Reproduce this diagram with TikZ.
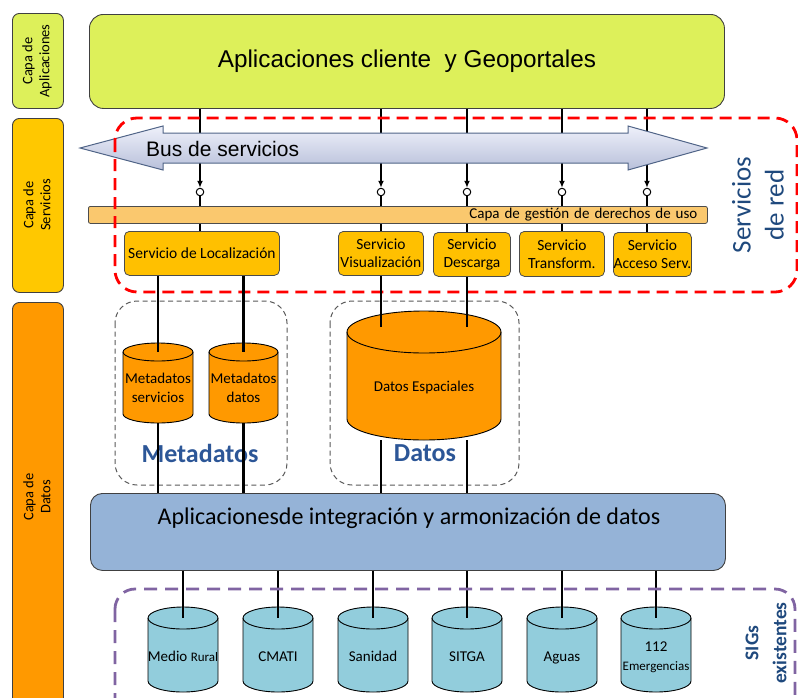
\documentclass[tikz,border=0pt]{standalone}
\usepackage{fontspec}
\setmainfont{Carlito}
\newfontfamily\arialf{Liberation Sans}
\usetikzlibrary{arrows.meta}
\definecolor{appgreen}{RGB}{221,240,90}
\definecolor{servyellow}{RGB}{255,200,0}
\definecolor{datorange}{RGB}{255,153,0}
\definecolor{svcbox}{RGB}{255,192,0}
\definecolor{barorange}{RGB}{250,200,110}
\definecolor{integblue}{RGB}{149,179,215}
\definecolor{cylteal}{RGB}{146,205,220}
\definecolor{cylorange}{RGB}{255,153,0}
\definecolor{labelblue}{RGB}{31,73,125}
\definecolor{titleblue}{RGB}{44,86,151}
\definecolor{dashpurple}{RGB}{128,100,162}
\definecolor{dashred}{RGB}{255,0,0}
\definecolor{bustop}{RGB}{238,240,250}
\definecolor{busbot}{RGB}{184,192,218}
\definecolor{busedge}{RGB}{80,100,135}
\tikzset{
  layer/.style={draw=black!75, line width=0.9pt, rounded corners=7pt, inner sep=0pt, anchor=north west},
  layertext/.style={rotate=90, align=center, inner sep=0pt, font=\fontsize{14.5}{17}\selectfont},
  svc/.style={draw=black!70, line width=0.8pt, fill=svcbox, rounded corners=5pt, inner sep=0pt, anchor=north west, align=center, font=\fontsize{15.5}{18}\selectfont},
  conn/.style={line width=1.5pt},
  fatconn/.style={line width=2.4pt},
  cyltext/.style={align=center, inner sep=0pt, font=\fontsize{15}{18.5}\selectfont},
  ring/.style={circle, draw=black, fill=white, line width=1pt, minimum size=7.5pt, inner sep=0pt},
  grayframe/.style={draw=black!65, line width=1pt, dash pattern=on 5pt off 3.5pt, rounded corners=22pt},
  bigtitle/.style={inner sep=0pt, text=titleblue, font=\fontsize{26}{30}\selectfont\bfseries},
}
\newcommand\dbcyl[9]{%
  \path[draw=black, line width=0.9pt, fill=#7]
    ({#2-#4/2},{-#3-#6}) -- ({#2-#4/2},{-#3-#5+#6})
    arc[start angle=180, end angle=360, x radius={#4/2}, y radius=#6]
    -- ({#2+#4/2},{-#3-#6})
    arc[start angle=0, end angle=180, x radius={#4/2}, y radius=#6] -- cycle;
  \draw[line width=0.9pt] ({#2-#4/2},{-#3-#6}) arc[start angle=180, end angle=360, x radius={#4/2}, y radius=#6];
  \coordinate (#1-t) at (#2,{-#3-#6});
  \coordinate (#1-b) at (#2,{-#3-#5});
  \node[cyltext] (#1) at (#2,-#8) {#9};
}
\begin{document}
\begin{tikzpicture}[x=1pt, y=1pt]
\useasboundingbox (0,0) rectangle (798,-697);

% left layer boxes
\node[layer, fill=appgreen, minimum width=51pt, minimum height=95pt] (lapp) at (12,-13) {};
\node[layertext] (lapptxt) at (37,-61) {Capa de\\Aplicaciones};
\node[layer, fill=servyellow, minimum width=51pt, minimum height=174pt] (lserv) at (12,-118) {};
\node[layertext] (lservtxt) at (37,-205) {Capa de\\Servicios};
\node[layer, fill=datorange, minimum width=51pt, minimum height=430pt] (ldat) at (12,-302) {};
\node[layertext] (ldattxt) at (37,-497) {Capa de\\Datos};

% application box
\node[draw=black!75, line width=0.9pt, fill=appgreen, rounded corners=14pt, anchor=north west,
      minimum width=635pt, minimum height=94pt, inner sep=0pt,
      font=\arialf\fontsize{24.3}{28}\selectfont] (app) at (89,-14) {Aplicaciones cliente\ \ y Geoportales};

% column positions
\coordinate (X1) at (200,0);
\coordinate (X2) at (381,0);
\coordinate (X3) at (467,0);
\coordinate (X4) at (562,0);
\coordinate (X5) at (647,0);

% rights bar
\node[draw=black!70, line width=0.8pt, fill=barorange, rounded corners=2pt, anchor=north west,
      minimum width=619pt, minimum height=17pt, inner sep=0pt, inner xsep=10pt, text width=599pt,
      align=right, font=\fontsize{15}{16}\selectfont] (bar) at (88,-206) {Capa de gestión de derechos de uso};

% rings
\node[ring] (o1) at (200,-192) {};
\node[ring] (o2) at (381,-192) {};
\node[ring] (o3) at (467,-192) {};
\node[ring] (o4) at (562,-192) {};
\node[ring] (o5) at (647,-192) {};

\foreach \i in {1,...,5}{
  \draw[conn, -{Latex[length=7pt,width=6pt]}] (app.south -| o\i) -- (o\i.north);
  \draw[conn] (o\i.south) -- (bar.north -| o\i);
}

% bus arrow
\shade[top color=bustop, bottom color=busbot, draw=busedge, line width=1pt]
  (80,-148) -- (163,-126) -- (163,-133) -- (628,-133) -- (628,-126) -- (707,-148)
  -- (628,-170) -- (628,-163) -- (163,-163) -- (163,-170) -- cycle;
\node[anchor=west, inner sep=0pt, font=\arialf\fontsize{21}{25}\selectfont] (bus) at (146,-149) {Bus de servicios};

% service boxes
\node[svc, minimum width=155pt, minimum height=44pt] (loc) at (124,-231) {Servicio de Localización};
\node[svc, minimum width=85pt, minimum height=44pt] (vis) at (338,-231) {Servicio\\Visualización};
\node[svc, minimum width=77pt, minimum height=44pt] (des) at (433,-232) {Servicio\\Descarga};
\node[svc, minimum width=85pt, minimum height=45pt] (tra) at (519,-231) {Servicio\\Transform.};
\node[svc, minimum width=78pt, minimum height=44pt] (acc) at (613,-232) {Servicio\\Acceso Serv.};

\draw[conn] (bar.south -| X1) -- (loc.north -| X1);
\draw[conn] (bar.south -| X2) -- (vis.north -| X2);
\draw[conn] (bar.south -| X3) -- (des.north -| X3);
\draw[conn] (bar.south -| X4) -- (tra.north -| X4);
\draw[conn] (bar.south -| X5) -- (acc.north -| X5);

% red frame
\draw[dashred, line width=2.8pt, dash pattern=on 12pt off 7pt, rounded corners=22pt] (115,-118) rectangle (797,-292);
\node[rotate=90, align=center, inner sep=0pt, text=labelblue, font=\fontsize{27}{33}\selectfont] (red) at (758,-205) {Servicios\\de red};

% metadata / data frames
\draw[grayframe] (115,-301) rectangle (287,-485);
\draw[grayframe] (330,-301) rectangle (519,-485);

\dbcyl{ms}{158}{343}{70}{80}{9}{cylorange}{388}{Metadatos\\servicios}
\dbcyl{md}{243.5}{343}{69}{80}{9}{cylorange}{388}{Metadatos\\datos}
\dbcyl{de}{424}{311}{154}{129}{21}{cylorange}{388}{\strut Datos Espaciales}
\coordinate (de-in) at (424,-327);

\node[bigtitle] (tmeta) at (200,-453) {Metadatos};
\node[bigtitle] (tdat) at (425,-453) {Datos};

\draw[fatconn] (loc.south -| ms-t) -- (ms-t);
\draw[fatconn] (loc.south -| md-t) -- (md-t);
\draw[fatconn] (vis.south -| X2) -- (de-in -| X2);
\draw[fatconn] (des.south -| X3) -- (de-in -| X3);

% integration box
\node[draw=black!75, line width=0.9pt, fill=integblue, rounded corners=12pt, anchor=north west,
      minimum width=635pt, minimum height=77pt, inner sep=0pt] (integ) at (90,-493) {};
\node[inner sep=0pt, font=\fontsize{24}{28}\selectfont] (integlbl) at (409,-518) {Aplicacionesde integración y armonización de datos};

\draw[fatconn] (ms-b) -- (integ.north -| ms-b);
\draw[fatconn] (md-b) -- (integ.north -| md-b);
\draw[fatconn] (de-b -| X2) -- (integ.north -| X2);
\draw[fatconn] (de-b -| X3) -- (integ.north -| X3);

% existing GIS
\dbcyl{b1}{183}{607}{70}{85}{11}{cylteal}{658}{\strut Medio {\fontsize{13}{15}\selectfont Rural}}
\dbcyl{b2}{278}{607}{70}{85}{11}{cylteal}{658}{\strut CMATI}
\dbcyl{b3}{373}{607}{70}{85}{11}{cylteal}{658}{\strut Sanidad}
\dbcyl{b4}{467}{607}{70}{85}{11}{cylteal}{658}{\strut SITGA}
\dbcyl{b5}{562}{607}{70}{85}{11}{cylteal}{658}{\strut Aguas}
\dbcyl{b6}{656}{607}{70}{85}{11}{cylteal}{657}{112\\{\fontsize{13}{15}\selectfont Emergencias}}

\foreach \b in {b1,b2,b3,b4,b5,b6}{
  \draw[fatconn] (integ.south -| \b-t) -- (\b-t);
}

\draw[dashpurple, line width=2.8pt, dash pattern=on 13pt off 8pt, rounded corners=20pt] (115,-589) rectangle (795,-730);
\node[rotate=90, align=center, inner sep=0pt, text=labelblue, font=\fontsize{19.5}{28}\selectfont\bfseries] (sigs) at (766,-643) {SIGs\\existentes};
\end{tikzpicture}
\end{document}
